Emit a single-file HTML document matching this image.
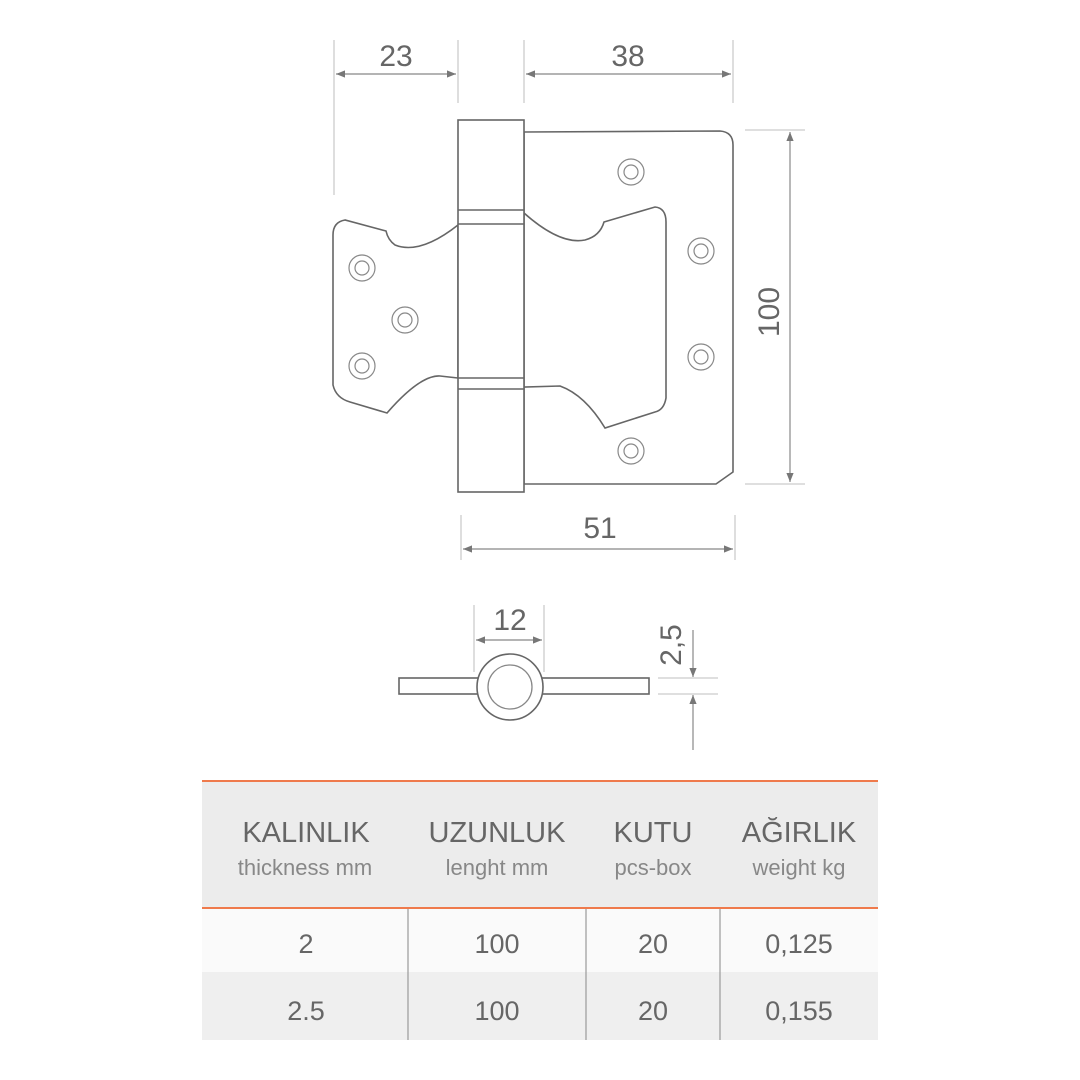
<!DOCTYPE html>
<html><head><meta charset="utf-8"><style>
html,body{margin:0;padding:0;background:#fff;}
svg{display:block;}
text{font-family:"Liberation Sans",sans-serif;fill:#666;}
</style></head><body>
<svg width="1080" height="1080" viewBox="0 0 1080 1080" xmlns="http://www.w3.org/2000/svg">
<defs>
<marker id="a" viewBox="0 0 10 10" refX="10" refY="5" markerWidth="14" markerHeight="9" markerUnits="userSpaceOnUse" orient="auto-start-reverse"><path d="M0,1 L10,5 L0,9z" fill="#777"/></marker>
</defs>
<g stroke="#ccc" stroke-width="1.3" fill="none">
<line x1="334" y1="40" x2="334" y2="195"/><line x1="458" y1="40" x2="458" y2="103"/>
<line x1="524" y1="40" x2="524" y2="103"/><line x1="733" y1="40" x2="733" y2="103"/>
<line x1="745" y1="130" x2="805" y2="130"/><line x1="745" y1="484" x2="805" y2="484"/>
<line x1="461" y1="515" x2="461" y2="560"/><line x1="735" y1="515" x2="735" y2="560"/>
<line x1="474" y1="605" x2="474" y2="672"/><line x1="544" y1="605" x2="544" y2="672"/>
<line x1="658" y1="678" x2="718" y2="678"/><line x1="658" y1="694" x2="718" y2="694"/>
</g>
<g stroke="#888" stroke-width="1.2" fill="none">
<line x1="336" y1="74" x2="456" y2="74" marker-start="url(#a)" marker-end="url(#a)"/>
<line x1="526" y1="74" x2="731" y2="74" marker-start="url(#a)" marker-end="url(#a)"/>
<line x1="790" y1="132" x2="790" y2="482" marker-start="url(#a)" marker-end="url(#a)"/>
<line x1="463" y1="549" x2="733" y2="549" marker-start="url(#a)" marker-end="url(#a)"/>
<line x1="476" y1="640" x2="542" y2="640" marker-start="url(#a)" marker-end="url(#a)"/>
<line x1="693" y1="630" x2="693" y2="677" marker-end="url(#a)"/>
<line x1="693" y1="750" x2="693" y2="695" marker-end="url(#a)"/>
</g>
<g font-size="30" text-anchor="middle">
<text x="396" y="66">23</text><text x="628" y="66">38</text>
<text x="600" y="538">51</text><text x="510" y="630">12</text>
<text transform="translate(779,312) rotate(-90)">100</text>
<text transform="translate(681,645) rotate(-90)">2,5</text>
</g>
<g stroke="#666" stroke-width="1.6" fill="#fff">
<path d="M524,132 L720,131 Q733,132 733,145 L733,472 L716,484 L524,484 Z"/>
<path d="M524,213 Q560,245 585,240 Q600,236 604,222 L655,207 Q666,208 666,222 L666,398 Q664,410 655,412 L605,428 Q585,395 560,386 L524,387 Z"/>
<path d="M458,225 Q420,255 395,245 Q388,240 386,231 L345,220 Q333,222 333,235 L333,385 Q336,398 350,402 L387,413 Q420,375 440,376 L458,378 Z"/>
<rect x="458" y="120" width="66" height="372"/>
<line x1="458" y1="210" x2="524" y2="210"/><line x1="458" y1="224" x2="524" y2="224"/>
<line x1="458" y1="378" x2="524" y2="378"/><line x1="458" y1="389" x2="524" y2="389"/>
</g>
<g stroke="#888" stroke-width="1.2" fill="none">
<circle cx="631" cy="172" r="13"/><circle cx="631" cy="172" r="7"/>
<circle cx="701" cy="251" r="13"/><circle cx="701" cy="251" r="7"/>
<circle cx="701" cy="357" r="13"/><circle cx="701" cy="357" r="7"/>
<circle cx="631" cy="451" r="13"/><circle cx="631" cy="451" r="7"/>
<circle cx="362" cy="268" r="13"/><circle cx="362" cy="268" r="7"/>
<circle cx="405" cy="320" r="13"/><circle cx="405" cy="320" r="7"/>
<circle cx="362" cy="366" r="13"/><circle cx="362" cy="366" r="7"/>
</g>
<g stroke="#666" stroke-width="1.6" fill="#fff">
<rect x="399" y="678" width="250" height="16"/>
<circle cx="510" cy="687" r="33"/>
</g>
<circle cx="510" cy="687" r="22" stroke="#888" stroke-width="1.3" fill="none"/>
<rect x="202" y="782" width="676" height="125" fill="#ececec"/>
<rect x="202" y="909" width="676" height="63" fill="#fafafa"/>
<rect x="202" y="972" width="676" height="68" fill="#efefef"/>
<line x1="202" y1="781" x2="878" y2="781" stroke="#ef7a4c" stroke-width="2"/>
<line x1="202" y1="908" x2="878" y2="908" stroke="#ef7a4c" stroke-width="2"/>
<g stroke="#999" stroke-width="1.2">
<line x1="408" y1="909" x2="408" y2="1040"/><line x1="586" y1="909" x2="586" y2="1040"/><line x1="720" y1="909" x2="720" y2="1040"/>
</g>
<g text-anchor="middle" font-size="29">
<text x="306" y="842">KALINLIK</text><text x="497" y="842">UZUNLUK</text><text x="653" y="842">KUTU</text><text x="799" y="842">AĞIRLIK</text>
</g>
<g text-anchor="middle" font-size="22">
<text x="305" y="875" style="fill:#888">thickness mm</text><text x="497" y="875" style="fill:#888">lenght mm</text><text x="653" y="875" style="fill:#888">pcs-box</text><text x="799" y="875" style="fill:#888">weight kg</text>
</g>
<g text-anchor="middle" font-size="27">
<text x="306" y="953">2</text><text x="497" y="953">100</text><text x="653" y="953">20</text><text x="799" y="953">0,125</text>
<text x="306" y="1020">2.5</text><text x="497" y="1020">100</text><text x="653" y="1020">20</text><text x="799" y="1020">0,155</text>
</g>
</svg>
</body></html>
